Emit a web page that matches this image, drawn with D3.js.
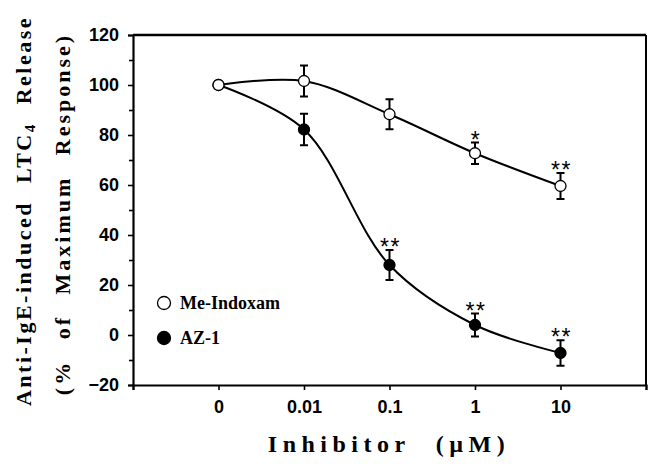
<!DOCTYPE html>
<html><head><meta charset="utf-8">
<script src="https://cdn.jsdelivr.net/npm/d3@7"></script>
<style>body{margin:0;background:#fff}svg{display:block}</style>
</head><body>
<svg id="c" width="662" height="471"></svg>
<script>
const doses = ["0", "0.01", "0.1", "1", "10"];
const meMean = [100, 101.6, 88.3, 72.7, 59.6];
const meErr  = [0, 6.2, 6.0, 4.3, 5.2];
const meSig  = ["", "", "", "*", "**"];
const azMean = [100, 82.2, 28.0, 4.0, -7.2];
const azErr  = [0, 6.3, 6.0, 4.6, 5.1];
const azSig  = ["", "", "**", "**", "**"];
const yTicks = [-20, 0, 20, 40, 60, 80, 100, 120];
const yMinor = [-10, 10, 30, 50, 70, 90, 110];
const legendNames = ["Me-Indoxam", "AZ-1"];

const svg = d3.select("#c");
const L = 133, R = 646, T = 35, B = 385;
const x = d3.scaleLinear().domain([-1, 5]).range([L, R]);
const y = d3.scaleLinear().domain([-20, 120]).range([B, T]);

// frame
svg.append("line").attr("x1", L).attr("x2", R).attr("y1", T).attr("y2", T).attr("stroke", "#000").attr("stroke-width", 2.5);
svg.append("line").attr("x1", R).attr("x2", R).attr("y1", T).attr("y2", B).attr("stroke", "#000").attr("stroke-width", 2);

// axes
const yAx = svg.append("g").attr("transform", `translate(${L},0)`)
  .call(d3.axisLeft(y).tickValues(yTicks).tickSize(5).tickPadding(9).tickFormat(d3.format("d")));
const yAx2 = svg.append("g").attr("transform", `translate(${L},0)`)
  .call(d3.axisLeft(y).tickValues(yMinor).tickSize(4).tickFormat(""));
const xAx = svg.append("g").attr("transform", `translate(0,${B})`)
  .call(d3.axisBottom(x).tickValues([-1, 0, 1, 2, 3, 4, 5]).tickSize(5).tickPadding(10)
    .tickFormat(i => (i >= 0 && i < doses.length) ? doses[i] : ""));
[yAx, yAx2, xAx].forEach(g => {
  g.select(".domain").attr("stroke-width", 2.2);
  g.selectAll(".tick line").attr("stroke-width", 1.6);
  g.selectAll("text").attr("font-family", "Arial, 'Liberation Sans', sans-serif")
    .attr("font-weight", "bold").attr("font-size", 18).attr("fill", "#000");
});
yAx2.select(".domain").remove();

// curves
const line = d3.line().x((d, i) => x(i)).y(d => y(d)).curve(d3.curveCatmullRom.alpha(0.5));
svg.append("path").attr("d", line(meMean)).attr("fill", "none").attr("stroke", "#000").attr("stroke-width", 2);
svg.append("path").attr("d", line(azMean)).attr("fill", "none").attr("stroke", "#000").attr("stroke-width", 2);

function series(mean, err, sig, fill) {
  const g = svg.append("g");
  mean.forEach((m, i) => {
    if (err[i] > 0) {
      const cx = x(i);
      g.append("line").attr("x1", cx).attr("x2", cx).attr("y1", y(m + err[i])).attr("y2", y(m - err[i])).attr("stroke", "#000").attr("stroke-width", 2);
      [m + err[i], m - err[i]].forEach(v => g.append("line").attr("x1", cx - 4).attr("x2", cx + 4).attr("y1", y(v)).attr("y2", y(v)).attr("stroke", "#000").attr("stroke-width", 2));
    }
    if (sig[i]) {
      g.append("text").attr("x", x(i) + 1).attr("y", y(m + err[i]) + 5).attr("text-anchor", "middle")
        .attr("font-family", "Arial, 'Liberation Sans', sans-serif").attr("font-size", 23).attr("letter-spacing", 1.5)
        .text(sig[i]);
    }
  });
  mean.forEach((m, i) => {
    g.append("circle").attr("cx", x(i)).attr("cy", y(m)).attr("r", 5.5).attr("fill", fill).attr("stroke", "#000").attr("stroke-width", 1.3);
  });
}
series(azMean, azErr, azSig, "#000");
series(meMean, meErr, meSig, "#fff");

// legend
const lg = svg.append("g");
legendNames.forEach((n, i) => {
  const ly = 303 + i * 35;
  lg.append("circle").attr("cx", 164).attr("cy", ly).attr("r", 6.5).attr("fill", i ? "#000" : "#fff").attr("stroke", "#000").attr("stroke-width", 1.3);
  lg.append("text").attr("x", 180).attr("y", ly + 6).attr("font-family", "'Liberation Serif', 'Times New Roman', serif")
    .attr("font-weight", "bold").attr("font-size", 18).text(n);
});

// axis titles
svg.append("text").attr("x", 389).attr("y", 452).attr("text-anchor", "middle")
  .attr("font-family", "'Liberation Serif', 'Times New Roman', serif").attr("font-weight", "bold")
  .attr("font-size", 24).attr("letter-spacing", 5.5).attr("word-spacing", 14).text("Inhibitor (\u00b5M)");

const yt = svg.append("text").attr("transform", "translate(31,211) rotate(-90)").attr("text-anchor", "middle")
  .attr("font-family", "'Liberation Serif', 'Times New Roman', serif").attr("font-weight", "bold")
  .attr("font-size", 22).attr("letter-spacing", 2.5).attr("word-spacing", 10);
yt.append("tspan").text("Anti-IgE-induced LTC");
yt.append("tspan").attr("font-size", 15).attr("dy", 4).text("4");
yt.append("tspan").attr("dy", -4).text(" Release");
svg.append("text").attr("transform", "translate(70,214) rotate(-90)").attr("text-anchor", "middle")
  .attr("font-family", "'Liberation Serif', 'Times New Roman', serif").attr("font-weight", "bold")
  .attr("font-size", 22).attr("letter-spacing", 3).attr("word-spacing", 12).text("(% of Maximum Response)");
</script>
</body></html>
